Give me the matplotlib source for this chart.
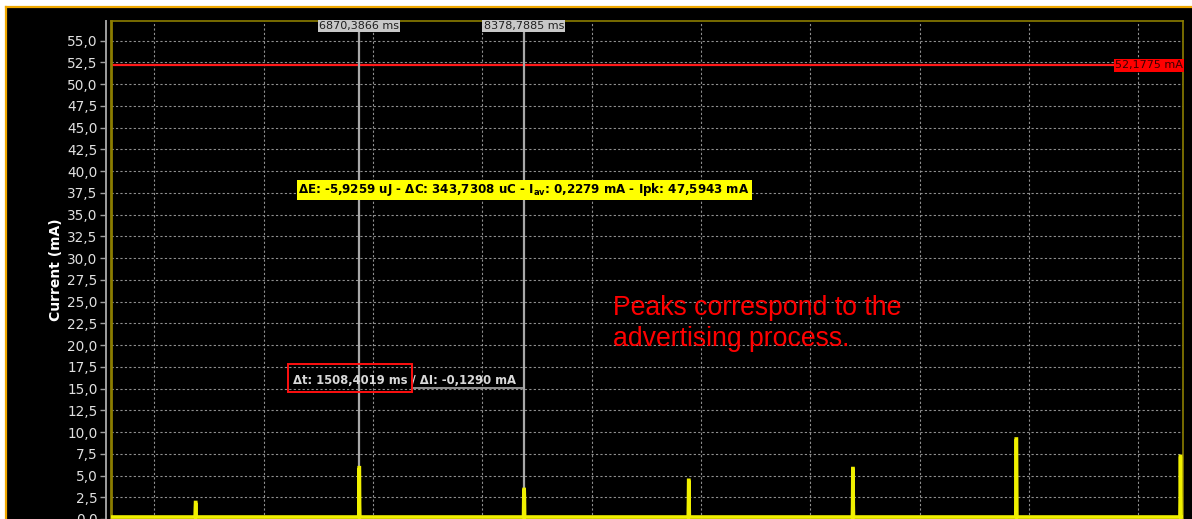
import matplotlib
matplotlib.use("Agg")
import matplotlib.pyplot as plt
from matplotlib.patches import Rectangle
from matplotlib.lines import Line2D
from matplotlib.ticker import FuncFormatter, MultipleLocator

# ---- measurement data -------------------------------------------------
baseline_ma = 0.23
peak_times_ms = [5380, 6876, 8383, 9889, 11390, 12884, 14385]
peak_heights_ma = [1.9, 5.9, 3.4, 4.45, 5.8, 9.2, 7.2]
shoulder_heights_ma = [1.2, 1.6, 2.4, 1.9, 1.6, 4.9, 2.6]

cursor_a_ms = 6870.3866
cursor_b_ms = 8378.7885
threshold_ma = 52.1775

x_range_ms = (4602, 14407)
y_range_ma = (0.0, 57.3)

stats_text = (r"ΔE: -5,9259 uJ - ΔC: 343,7308 uC - I$_{\mathregular{av}}$: "
              r"0,2279 mA - Ipk: 47,5943 mA")
delta_text = "Δt: 1508,4019 ms / ΔI: -0,1290 mA"
note_text = "Peaks correspond to the\nadvertising process."

# ---- assemble the current trace from the peak list ----------------------
t_trace = [x_range_ms[0]]
i_trace = [baseline_ma]
for t, h, s in zip(peak_times_ms, peak_heights_ma, shoulder_heights_ma):
    t_trace += [t - 6, t - 4, t - 2, t, t + 2, t + 4]
    i_trace += [baseline_ma, s, h, h, s, baseline_ma]
t_trace.append(x_range_ms[1])
i_trace.append(baseline_ma)

# ---- figure -------------------------------------------------------------
W, H = 1192, 519
fig = plt.figure(figsize=(W / 100, H / 100), dpi=100, facecolor="black")

ax_left, ax_right, ax_top = 110.7, 1183.0, 20.7
ax = fig.add_axes([ax_left / W, 0.0, (ax_right - ax_left) / W, 1 - ax_top / H])
ax.set_facecolor("black")
ax.set_xlim(*x_range_ms)
ax.set_ylim(*y_range_ma)

grid_kw = dict(color="#909090", lw=0.8, ls=(0, (2.0, 2.0)))
ax.yaxis.set_major_locator(MultipleLocator(2.5))
ax.xaxis.set_major_locator(MultipleLocator(1000))
ax.grid(True, **grid_kw)
ax.set_axisbelow(True)

ax.yaxis.set_major_formatter(FuncFormatter(lambda v, _: f"{v:.1f}".replace(".", ",")))
ax.tick_params(axis="y", colors="#a0a0a0", labelcolor="#e0e0e0", labelsize=9.8,
               length=4.3, width=1.0, pad=1.8)
ax.tick_params(axis="x", bottom=False, labelbottom=False)

for side in ("top", "right", "bottom"):
    ax.spines[side].set_color("#8c7d00")
    ax.spines[side].set_linewidth(1.2)
ax.spines["left"].set_position(("outward", 3.4))
ax.spines["left"].set_color("#a0a0a0")
ax.spines["left"].set_linewidth(1.4)
# inner olive frame edge on the left
ax.axvline(x_range_ms[0], color="#8c7d00", lw=2.0, zorder=5, clip_on=False)

ax.set_ylabel("Current (mA)", color="white", fontsize=10, fontweight="bold", labelpad=3)

# threshold line
ax.axhline(threshold_ma, color="#ff1a1a", lw=1.6, zorder=3)
ax.text(x_range_ms[1], threshold_ma, f"{threshold_ma:.4f} mA".replace(".", ","),
        ha="right", va="center", fontsize=8, color="#3a0000", zorder=8,
        bbox=dict(boxstyle="square,pad=0.12", fc="#ff0000", ec="none"))

# cursors
for c in (cursor_a_ms, cursor_b_ms):
    ax.axvline(c, color="#a8a8a8", lw=1.6, zorder=4)
    ax.text(c, y_range_ma[1], f"{c:.4f} ms".replace(".", ","), ha="center", va="top",
            fontsize=8, color="#202020", zorder=8,
            bbox=dict(boxstyle="square,pad=0.1", fc="#c8c8c8", ec="none"))

# current trace
ax.plot(t_trace, i_trace, color="#f0f000", lw=2.6, solid_joinstyle="miter", zorder=6)

# statistics label between the cursors
ax.text(6318, 37.85, stats_text, ha="left", va="center", fontsize=8.6,
        fontweight="bold", color="black", zorder=9,
        bbox=dict(boxstyle="square,pad=0.15", fc="#ffff00", ec="none"))

# delta readout
ax.plot([7359, cursor_b_ms], [15.06, 15.06], color="#a8a8a8", lw=1.2, zorder=4)
ax.text(6265, 15.95, delta_text, ha="left", va="center", fontsize=8.4,
        fontweight="bold", color="#d8d8d8", zorder=9)
ax.add_patch(Rectangle((6225, 14.6), 1134, 3.2, fill=False, ec="#ff1010", lw=1.4, zorder=9))

# note
ax.text(9195, 22.5, note_text, ha="left", va="center", fontsize=19.2,
        family="Liberation Sans", color="#ff0000", linespacing=1.27, zorder=9)

# outer frame of the window
fig.patches.append(Rectangle((0, 1 - 6 / H), 1, 6 / H, transform=fig.transFigure,
                             fc="white", ec="none", zorder=10))
fig.patches.append(Rectangle((0, 0), 5 / W, 1, transform=fig.transFigure,
                             fc="white", ec="none", zorder=10))
fig.lines.append(Line2D([5.5 / W, 1], [1 - 7 / H, 1 - 7 / H], transform=fig.transFigure,
                        color="#f0a800", lw=1.6, zorder=11))
fig.lines.append(Line2D([6 / W, 6 / W], [0, 1 - 6.5 / H], transform=fig.transFigure,
                        color="#f0a800", lw=1.6, zorder=11))

fig.savefig("out.png", dpi=100, facecolor="black")
